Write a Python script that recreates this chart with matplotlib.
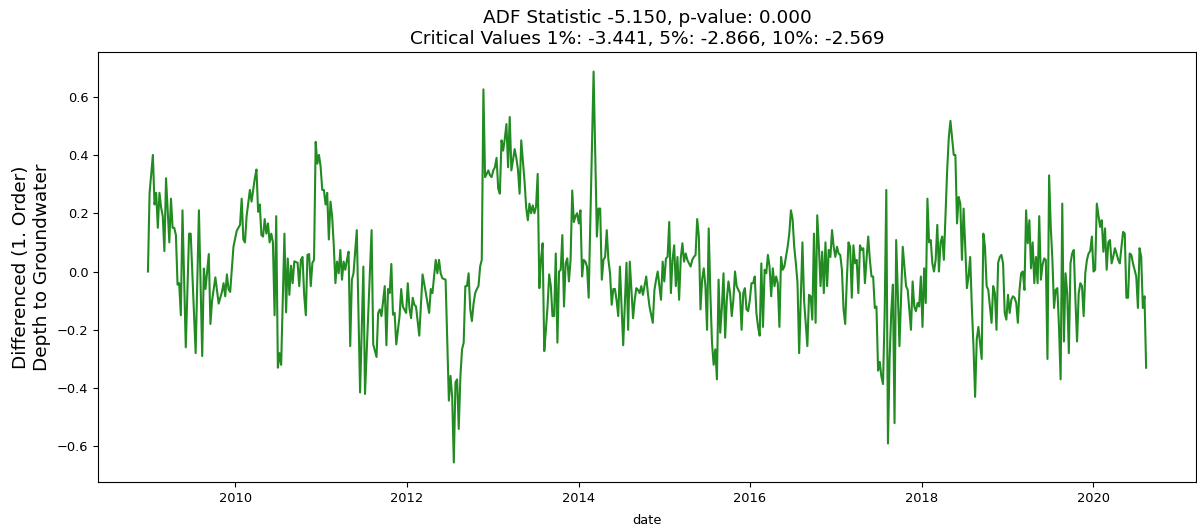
import numpy as np
import pandas as pd
import matplotlib
matplotlib.use('Agg')
import matplotlib.pyplot as plt

# weekly samples (week offset from start date) and first-order differences
start_date = '2008-12-25'
weeks = [
    0, 1, 3, 4, 5, 6, 7, 8, 9, 10, 11, 13, 14, 15, 16, 17, 18, 19, 20, 21, 23, 25, 26, 29, 31, 33, 34, 35, 37, 38,
    39, 41, 43, 45, 46, 47, 48, 49, 50, 52, 54, 56, 57, 58, 59, 60, 62, 63, 64, 65, 66, 67, 68, 69, 70, 71, 72, 73,
    74, 75, 76, 77, 78, 79, 80, 81, 83, 84, 85, 86, 87, 88, 89, 91, 92,
    93, 94, 95, 96, 97, 98, 99, 100, 101, 102, 103, 104, 105, 106, 107, 108, 109, 110, 111, 112, 113,
    114, 115, 116, 117, 118, 119, 120, 121, 122, 123, 124, 125, 127, 129, 131, 132, 136, 137, 139, 140, 141, 142,
    144, 145, 146, 147, 148, 149, 150, 151, 153, 154, 155, 157, 158, 159, 160, 161, 162, 163, 165, 167, 169, 171,
    172, 173, 175, 176, 177, 178, 179, 181, 183, 184, 185, 186, 187, 188, 189, 190, 191, 192, 193, 194, 195, 196,
    197, 198, 199, 200, 201, 202, 203, 204, 205, 206, 207, 208, 209, 210, 211, 212, 213, 214, 215, 216, 217, 218,
    219, 220, 221, 223, 224, 225, 226, 227, 228,
    229, 230, 231, 232, 233, 234, 235, 236, 237, 238, 239, 240, 241, 242, 243, 244, 245, 246, 247, 248, 249, 250,
    251, 252, 253, 254, 255, 256, 257, 258, 259, 260, 261, 262, 263, 264, 265, 266, 267, 268, 271, 273, 274, 275,
    276, 277, 278, 279, 280, 281, 282, 283, 284, 285,
    286, 287, 289, 291, 292, 293, 295, 296, 297, 298, 299, 300, 301, 303, 304, 305, 307, 308, 309, 310, 312, 313,
    314, 315, 316, 317, 318, 319, 320, 321, 322, 323, 324, 325, 326, 327, 328, 329, 330, 331, 332, 333, 334, 335,
    336, 337, 338, 339, 340, 341, 342, 343, 344,
    345, 346, 347, 348, 349, 350, 351, 352, 353, 354, 355, 356, 357, 358, 359, 360, 361, 362, 363, 364, 365, 366,
    367, 368, 369, 370, 371, 372, 373, 374, 375, 376, 377, 378, 379, 380, 381, 382, 383, 384, 385, 386, 387, 388,
    389, 390, 391, 392, 393, 394, 395, 396, 398, 399, 401, 402,
    403, 404, 405, 406, 407, 408, 409, 410, 411, 412, 413, 414, 415, 416, 417, 418, 419, 420, 421, 422, 423, 424,
    425, 426, 427, 428, 429, 430, 431, 432, 433, 434, 435, 436, 437, 438, 439, 440, 441, 442, 443, 444, 445, 446,
    447, 448, 449, 450, 451, 452, 453, 454, 455, 456, 457, 459,
    460, 461, 462, 463, 464, 465, 466, 467, 468, 469, 470, 471, 472, 473, 474, 475, 476, 477, 478, 479, 480, 481,
    482, 483, 484, 486, 487, 488, 490, 491, 492, 493, 494, 495, 496, 497, 498, 499, 500, 501, 502, 503, 504, 505,
    506, 507, 508, 509, 510, 511, 512, 513, 514, 515, 516,
    517, 518, 519, 520, 521, 522, 523, 524, 525, 526, 527, 528, 529, 530, 531, 532, 533, 534, 535, 536, 537, 538,
    539, 540, 541, 542, 543, 544, 545, 546, 547, 548, 549, 550, 551, 552, 553, 554, 555, 556, 557, 558, 559, 560,
    561, 562, 563, 564, 565, 566, 567, 568, 569, 570, 571,
    572, 573, 574, 575, 576, 577, 579, 580, 581, 582, 583, 584, 585, 586, 587, 588, 589, 590, 591, 592, 593, 594,
    595, 596, 597, 598, 599, 600, 601, 602, 603, 604, 605, 606, 607,
]
diff_1 = [
    0.0, 0.27, 0.40, 0.23, 0.27, 0.15, 0.27, 0.22, 0.19, 0.07, 0.32, 0.10, 0.25, 0.15, 0.15, 0.125, -0.045, -0.04,
    -0.15, 0.21, -0.26, 0.13, 0.13, -0.28, 0.21, -0.29, 0.01, -0.06, 0.06, -0.18, -0.10, -0.02, -0.11, -0.07,
    -0.04, -0.085, -0.01, -0.06, -0.07, 0.085, 0.14, 0.16, 0.25, 0.11, 0.10, 0.19, 0.28, 0.24, 0.28, 0.32, 0.35,
    0.205, 0.23, 0.125, 0.12, 0.18, 0.13, 0.165, 0.10, 0.13, 0.10, -0.15, 0.19, -0.33, -0.28, -0.32, 0.13, -0.14,
    0.045, -0.08, 0.02, -0.04, 0.035, 0.03, -0.05,
    0.04, 0.05, -0.08, -0.15, 0.057, 0.06, -0.05, 0.03, 0.04, 0.445, 0.37, 0.40, 0.36, 0.28, 0.28, 0.23, 0.27,
    0.11, 0.24, 0.19, 0.09,
    -0.04, 0.034, -0.006, 0.074, -0.028, 0.034, 0.006, 0.04, 0.068, -0.256, -0.028, -0.006, 0.142, -0.415, 0.017,
    -0.42, 0.142, -0.25, -0.293, -0.142, -0.13, -0.153, -0.05, -0.253, -0.06, -0.074, 0.026, -0.148, -0.142,
    -0.25, -0.153, -0.06, -0.12, -0.142, -0.04, -0.125, -0.16, -0.09, -0.114, -0.12, -0.22, -0.01, -0.074, -0.142,
    -0.06, -0.074, 0.04, -0.006, 0.04, -0.006, -0.023, -0.028, -0.443, -0.358, -0.43, -0.655, -0.38, -0.37, -0.54,
    -0.36, -0.267, -0.244, -0.05, -0.05, -0.006, -0.13, -0.17, -0.11, -0.074, -0.06, -0.05, 0.017, 0.04, 0.625,
    0.324, 0.335, 0.347, 0.33, 0.324, 0.347, 0.358, 0.39, 0.284, 0.267, 0.45, 0.415, 0.455, 0.506, 0.358, 0.53,
    0.347, 0.42, 0.39, 0.35, 0.267, 0.45, 0.38,
    0.31, 0.22, 0.176, 0.233, 0.2, 0.227, 0.2, 0.222, 0.335, -0.057, 0.04, 0.097, -0.273, -0.2, -0.12, -0.01,
    -0.05, -0.153, -0.153, 0.062, -0.244, 0.0, 0.006, 0.125, -0.12, 0.028, 0.045, -0.034, 0.04, 0.278, 0.17, 0.19,
    0.2, 0.165, 0.21, -0.017, 0.04, 0.034, 0.017, -0.09, 0.686, 0.12, 0.216, 0.216, -0.028, 0.04, 0.05, 0.142,
    0.04, -0.006, -0.114, -0.06, -0.06, -0.1,
    -0.153, 0.017, -0.253, 0.03, -0.2, 0.034, -0.16, -0.097, -0.057, -0.063, -0.074, -0.05, -0.08, -0.017, -0.074,
    -0.12, -0.176, -0.063, -0.028, 0.0, -0.097, 0.034, -0.034, 0.045, 0.05, 0.17, -0.074, 0.04, 0.09, -0.05, 0.05,
    -0.097, 0.045, 0.097, 0.034, 0.062, 0.04, 0.028, 0.017, 0.04, 0.05, 0.057, 0.18, 0.12, -0.13, -0.028, 0.011,
    -0.05, -0.2, 0.148, -0.074, -0.244, -0.32,
    -0.267, -0.37, -0.028, -0.21, -0.125, -0.006, -0.227, -0.097, -0.034, -0.074, -0.153, -0.097, 0.0, -0.05,
    -0.063, -0.074, -0.2, -0.074, -0.057, -0.13, -0.136, -0.097, -0.04, -0.04, -0.017, -0.142, -0.19, -0.22, 0.028,
    -0.19, 0.006, -0.006, 0.057, 0.017, -0.085, 0.011, -0.05, -0.017, -0.04, -0.19, 0.05, 0.006, 0.017, 0.05,
    0.085, 0.13, 0.21, 0.18, 0.085, 0.028, -0.04, -0.28, 0.1, -0.1, -0.256, -0.08,
    -0.085, -0.165, 0.13, -0.176, 0.193, 0.085, -0.05, 0.068, -0.074, 0.1, -0.05, 0.074, 0.05, 0.142, 0.085, 0.05,
    0.085, 0.062, 0.057, 0.006, -0.13, -0.18, -0.028, 0.1, 0.085, -0.09, 0.09, 0.028, 0.04, -0.074, 0.09, 0.074,
    0.08, -0.04, 0.045, 0.12, 0.04, -0.017, -0.017, -0.125, -0.12, -0.34, -0.31, -0.36, -0.386, -0.142, 0.28,
    -0.59, -0.3, -0.142, -0.045, -0.52, 0.108, -0.074, -0.256, 0.085,
    0.017, -0.05, -0.063, -0.13, -0.2, -0.034, -0.12, -0.136, -0.108, -0.12, -0.017, -0.19, 0.011, -0.108, 0.25,
    0.1, 0.108, 0.028, 0.0, 0.04, 0.16, 0.0, 0.1, 0.12, 0.04, 0.347, 0.46, 0.517, 0.4, 0.4, 0.165, 0.256, 0.233,
    0.04, 0.216, 0.085, -0.057, -0.017, 0.05, -0.12, -0.256, -0.43, -0.233, -0.19, -0.244, -0.3, 0.13, 0.085,
    -0.05, -0.063, -0.12, -0.176, -0.05, -0.074, -0.2,
    0.03, 0.05, 0.057, 0.028, -0.142, -0.165, -0.08, -0.142, -0.097, -0.085, -0.09, -0.108, -0.176, -0.063,
    -0.006, 0.0, -0.063, 0.21, 0.097, 0.176, 0.011, 0.1, -0.04, 0.05, -0.04, 0.19, -0.028, 0.023, 0.045, 0.04,
    -0.3, 0.33, 0.153, 0.04, -0.125, -0.063, -0.057, -0.19, -0.37, 0.233, -0.24, -0.006, -0.074, -0.28, 0.028,
    0.062, 0.074, -0.097, -0.24, -0.074, -0.04, -0.05, -0.153, -0.006, 0.04,
    0.062, 0.07, 0.12, 0.0, 0.006, 0.233, 0.153, 0.176, 0.068, 0.148, 0.006, 0.1, 0.108, 0.028, 0.05, 0.08, 0.062,
    0.04, 0.028, 0.085, 0.136, 0.13, -0.09, -0.09, 0.062, 0.057, 0.028, 0.006, -0.017, -0.125, 0.08, 0.05, -0.125,
    -0.085, -0.33,
]

adf_stat = -5.150
p_value = 0.000
crit_1, crit_5, crit_10 = -3.441, -2.866, -2.569

dates = pd.Timestamp(start_date) + pd.to_timedelta(np.array(weeks) * 7, unit='D')

fig = plt.figure(figsize=(11.97, 5.31), dpi=100)
ax = fig.add_axes([0.0819, 0.0923, 0.9173, 0.8097])
ax.plot(dates, diff_1, color='forestgreen', linewidth=1.5)

ax.set_title(f'ADF Statistic {adf_stat:0.3f}, p-value: {p_value:0.3f}\n'
             f'Critical Values 1%: {crit_1:0.3f}, 5%: {crit_5:0.3f}, 10%: {crit_10:0.3f}', fontsize=13.3)
ax.set_ylabel('Differenced (1. Order)\nDepth to Groundwater', fontsize=13.3)
ax.set_xlabel('date', fontsize=9.4, labelpad=7)
ax.tick_params(labelsize=9.4)

plt.savefig('out.png', dpi=100)
